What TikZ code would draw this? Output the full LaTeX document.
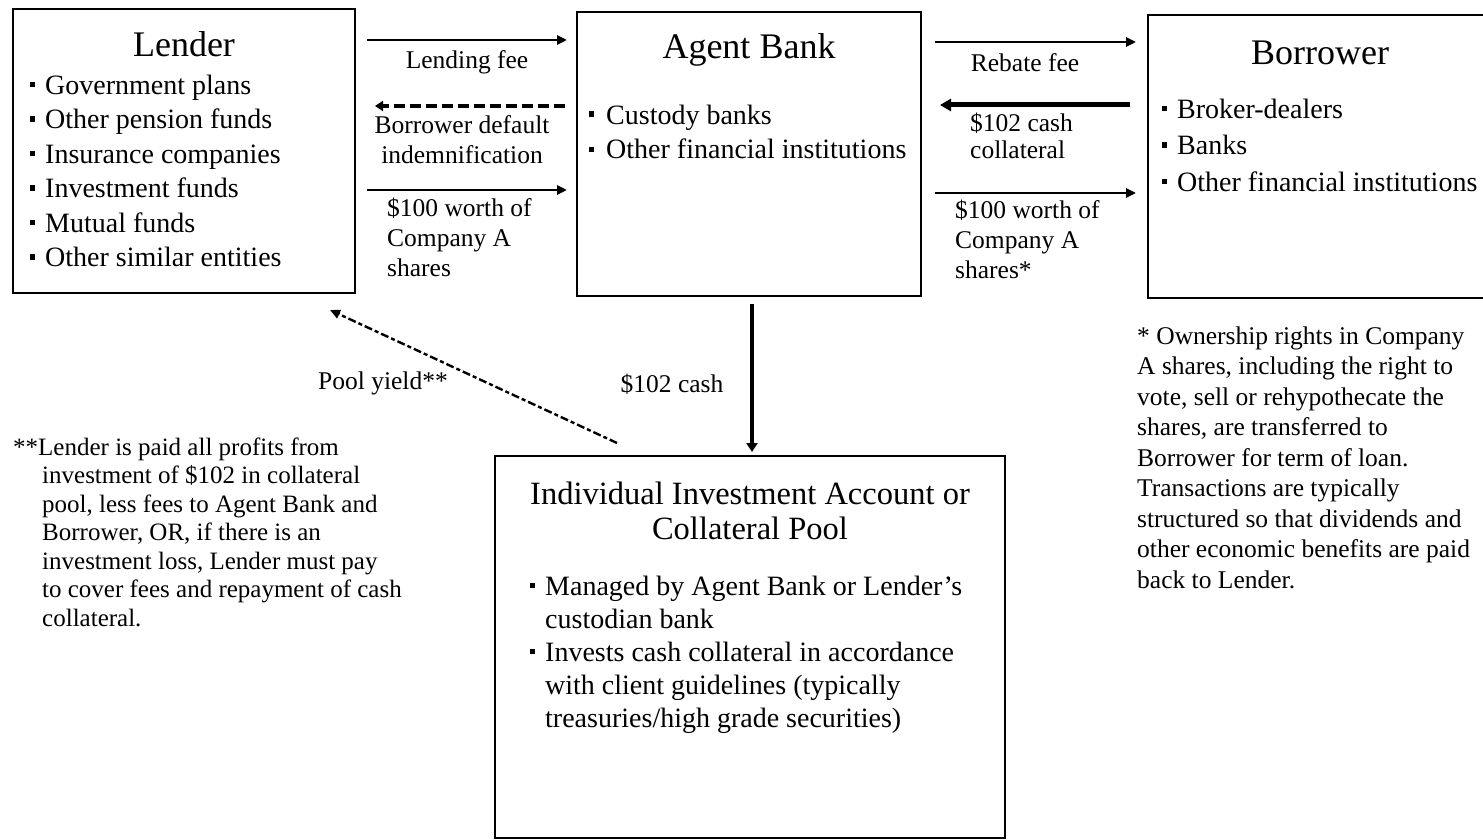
\documentclass[tikz,border=0pt]{standalone}
\usepackage{fontspec}
\setmainfont{Liberation Serif}
\usetikzlibrary{arrows.meta,calc}
\newcommand{\bl}{\makebox[15pt][l]{\rule[0.25em]{4.5pt}{5.5pt}}}
\newcommand{\blw}{\makebox[17pt][l]{\rule[0.25em]{4.5pt}{5.5pt}}}
\newcommand{\ind}{\hspace*{15pt}}
\begin{document}
\begin{tikzpicture}[x=1pt,y=-1pt,
  box/.style={draw,line width=2.8pt,inner sep=0pt,outer sep=0pt,anchor=north west},
  ttl/.style={inner sep=0pt,anchor=base,font=\fontsize{36}{40}\selectfont},
  item/.style={inner sep=0pt,align=left,anchor=base west,font=\fontsize{28}{34.5}\selectfont},
  lbl/.style={inner sep=0pt,font=\fontsize{25.5}{30}\selectfont},
  note/.style={inner sep=0pt,align=left,anchor=base west,font=\fontsize{25}{28.5}\selectfont},
  arr/.style={line width=2.6pt,-{Triangle[length=10pt,width=9pt]}},
  thickarr/.style={line width=5pt,-{Triangle[length=11pt,width=12pt]}},
  dasharr/.style={line width=4pt,dash pattern=on 11pt off 5pt,-{Triangle[length=8pt,width=10pt]}},
  diagarr/.style={line width=2.4pt,dash pattern=on 8pt off 3pt on 4pt off 3pt,-{Triangle[length=10pt,width=9pt]}}
]
\useasboundingbox (0,0) rectangle (1483,840);
\clip (0,0) rectangle (1483,840);
\fill[white] (0,0) rectangle (1483,840);

% Lender
\node[box,minimum width=342pt,minimum height=284pt] (lender) at (13,9) {};
\node[ttl] (lendertitle) at (184,57) {Lender};
\node[item] (lenderitems) at (30,266.5) {\bl Government plans\\ \bl Other pension funds\\ \bl Insurance companies\\ \bl Investment funds\\ \bl Mutual funds\\ \bl Other similar entities};

% Agent Bank
\node[box,minimum width=344pt,minimum height=284pt] (agent) at (577,12) {};
\node[ttl] (agenttitle) at (749,59) {Agent Bank};
\node[item,font=\fontsize{28}{35}\selectfont] (agentitems) at (589,159) {\blw Custody banks\\ \blw Other financial institutions};

% Borrower
\node[box,minimum width=350pt,minimum height=283pt] (borrower) at (1148,15) {};
\node[ttl] (borrowertitle) at (1320,65) {Borrower};
\node[item,font=\fontsize{28}{36.5}\selectfont] (borroweritems) at (1162,191) {\bl Broker-dealers\\ \bl Banks\\ \bl Other financial institutions};

% Pool
\node[box,minimum width=510pt,minimum height=382pt] (pool) at (495,456) {};
\node[ttl,align=center,font=\fontsize{32.5}{35}\selectfont] (pooltitle) at (750,539) {Individual Investment Account or\\Collateral Pool};
\node[item,font=\fontsize{28}{33}\selectfont] (poolitems) at (530,727) {\bl Managed by Agent Bank or Lender’s\\ \ind custodian bank\\ \bl Invests cash collateral in accordance\\ \ind with client guidelines (typically\\ \ind treasuries/high grade securities)};

% Lender <-> Agent
\draw[arr] ($(lender.east |- 0,40)+(12,0)$) -- ($(agent.west |- 0,40)+(-10,0)$);
\node[lbl] (lendingfee) at (467,62) {Lending fee};
\draw[dasharr] ($(agent.west |- 0,106)+(-12,0)$) -- ($(lender.east |- 0,106)+(20,0)$);
\node[lbl,align=center] (indemn) at (462,140) {Borrower default\\indemnification};
\draw[arr] ($(lender.east |- 0,190)+(12,0)$) -- ($(agent.west |- 0,190)+(-10,0)$);
\node[lbl,align=left,anchor=base west] (shares1) at (387,276) {\$100 worth of\\Company A\\shares};

% Agent <-> Borrower
\draw[arr] ($(agent.east |- 0,42)+(14,0)$) -- ($(borrower.west |- 0,42)+(-12,0)$);
\node[lbl] (rebate) at (1025,63) {Rebate fee};
\draw[thickarr] ($(borrower.west |- 0,105)+(-18,0)$) -- ($(agent.east |- 0,105)+(19,0)$);
\node[lbl,align=left,anchor=base west,font=\fontsize{25.5}{28}\selectfont] (cashcoll) at (970,159) {\$102 cash\\collateral};
\draw[arr] ($(agent.east |- 0,193)+(14,0)$) -- ($(borrower.west |- 0,193)+(-12,0)$);
\node[lbl,align=left,anchor=base west] (shares2) at (955,278) {\$100 worth of\\Company A\\shares*};

% Agent -> Pool
\draw[line width=4pt,-{Triangle[length=9pt,width=11pt]}] ($(agent.south)+(3,8)$) -- ($(pool.north west)+(257,-4)$);
\node[lbl] (cash102) at (672,384) {\$102 cash};

% Pool -> Lender (pool yield)
\draw[diagarr] ($(pool.north west)+(122,-13)$) -- ($(lender.south east)+(-25,17)$);
\node[lbl] (poolyield) at (383,383) {Pool yield**};

% Footnotes
\node[note] (leftnote) at (13,626) {**Lender is paid all profits from\\ \hspace*{29pt}investment of \$102 in collateral\\ \hspace*{29pt}pool, less fees to Agent Bank and\\ \hspace*{29pt}Borrower, OR, if there is an\\ \hspace*{29pt}investment loss, Lender must pay\\ \hspace*{29pt}to cover fees and repayment of cash\\ \hspace*{29pt}collateral.};
\node[note,font=\fontsize{25.5}{30.5}\selectfont] (rightnote) at (1137,588) {* Ownership rights in Company\\A shares, including the right to\\vote, sell or rehypothecate the\\shares, are transferred to\\Borrower for term of loan.\\Transactions are typically\\structured so that dividends and\\other economic benefits are paid\\back to Lender.};
\end{tikzpicture}
\end{document}
